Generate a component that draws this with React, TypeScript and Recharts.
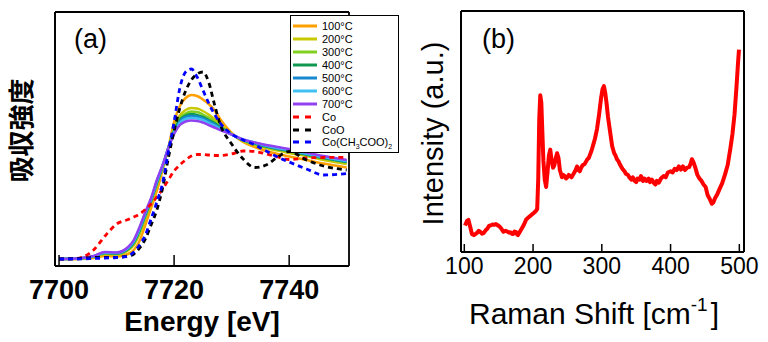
import React from 'react';
import { LineChart, Line, XAxis, YAxis, Legend, Customized, CartesianGrid } from 'recharts';

const FONT = '"Liberation Sans", Arial, sans-serif';

// ---------- (a) XANES ----------
const energy = [7700, 7703, 7706, 7708, 7710, 7712, 7713, 7714, 7715, 7716, 7717, 7718, 7719, 7720, 7721, 7722, 7723, 7724, 7725, 7726, 7727, 7728, 7730, 7732, 7734, 7736, 7738, 7740, 7743, 7746, 7750];
const t100 = [0, 0, 0.01, 0.03, 0.025, 0.05, 0.09, 0.18, 0.34, 0.51, 0.68, 0.89, 1.11, 1.37, 1.53, 1.61, 1.64, 1.63, 1.595, 1.55, 1.49, 1.40, 1.26, 1.17, 1.12, 1.08, 1.05, 1.025, 0.99, 0.955, 0.915];
const t200 = [0, 0, 0.02, 0.05, 0.045, 0.085, 0.14, 0.25, 0.405, 0.56, 0.735, 0.915, 1.11, 1.31, 1.435, 1.49, 1.51, 1.505, 1.48, 1.445, 1.40, 1.345, 1.25, 1.18, 1.14, 1.11, 1.085, 1.06, 1.03, 0.99, 0.95];
const t300 = [0, 0.003, 0.023, 0.056, 0.05, 0.095, 0.155, 0.27, 0.425, 0.575, 0.75, 0.92, 1.11, 1.29, 1.405, 1.455, 1.475, 1.47, 1.445, 1.415, 1.375, 1.33, 1.25, 1.185, 1.15, 1.12, 1.095, 1.075, 1.04, 1.005, 0.965];
const t400 = [0, 0.004, 0.025, 0.06, 0.055, 0.1, 0.165, 0.285, 0.44, 0.585, 0.76, 0.925, 1.11, 1.28, 1.39, 1.435, 1.45, 1.44, 1.42, 1.39, 1.36, 1.32, 1.245, 1.19, 1.155, 1.125, 1.10, 1.08, 1.045, 1.01, 0.97];
const t500 = [0, 0.004, 0.026, 0.063, 0.058, 0.107, 0.172, 0.295, 0.445, 0.59, 0.77, 0.93, 1.11, 1.27, 1.375, 1.42, 1.43, 1.425, 1.405, 1.38, 1.35, 1.31, 1.245, 1.19, 1.16, 1.13, 1.105, 1.085, 1.05, 1.015, 0.975];
const t600 = [0, 0.005, 0.028, 0.066, 0.062, 0.113, 0.18, 0.305, 0.46, 0.60, 0.78, 0.935, 1.11, 1.26, 1.36, 1.40, 1.41, 1.405, 1.39, 1.36, 1.335, 1.30, 1.245, 1.195, 1.165, 1.135, 1.11, 1.09, 1.055, 1.02, 0.98];
const t700 = [0, 0.005, 0.03, 0.07, 0.065, 0.12, 0.19, 0.32, 0.47, 0.61, 0.79, 0.94, 1.11, 1.25, 1.34, 1.375, 1.385, 1.38, 1.365, 1.34, 1.315, 1.29, 1.245, 1.195, 1.165, 1.14, 1.12, 1.10, 1.065, 1.03, 0.99];
const coMetal = [0, 0.005, 0.09, 0.23, 0.35, 0.395, 0.42, 0.45, 0.495, 0.55, 0.62, 0.70, 0.79, 0.88, 0.94, 0.99, 1.03, 1.045, 1.045, 1.04, 1.035, 1.035, 1.05, 1.08, 1.075, 1.05, 1.02, 0.995, 1.01, 1.015, 1.017];
const coO = [0, 0.005, 0.015, 0.017, 0.017, 0.03, 0.05, 0.11, 0.20, 0.34, 0.49, 0.71, 1.01, 1.28, 1.51, 1.68, 1.79, 1.85, 1.87, 1.77, 1.55, 1.35, 1.15, 1.00, 0.915, 0.94, 1.02, 1.075, 0.99, 0.93, 0.89];
const coAcetate = [0, 0, 0.005, 0.01, 0.015, 0.03, 0.07, 0.14, 0.24, 0.40, 0.57, 0.76, 1.07, 1.37, 1.71, 1.87, 1.90, 1.82, 1.69, 1.56, 1.45, 1.36, 1.25, 1.19, 1.14, 1.08, 1.02, 0.97, 0.90, 0.84, 0.855];
const energyTicks = [7700, 7720, 7740];

// ---------- (b) Raman ----------
const ramanShift = [101, 104, 106, 109, 111, 114, 118, 121, 123, 126, 128, 131, 133, 136, 138, 141, 143, 146, 148, 151, 153, 155, 157, 160, 162, 165, 167, 169, 171, 173, 175, 177, 178, 180, 181, 184, 187, 190, 194, 198, 201, 204, 206, 207.5, 209, 210.5, 212, 213.5, 215, 217, 219, 221, 223, 225, 227, 229, 231, 233, 235, 237, 239, 242, 244, 246, 248, 250, 252, 254, 256, 258, 260, 262, 264, 266, 268, 270, 272, 275, 277, 279, 281, 283, 285, 287, 290, 293, 296, 299, 301, 303, 305, 307, 309, 312, 315, 318, 320, 322, 324, 326, 328, 330, 333, 335, 338, 340, 343, 345, 348, 350, 352, 355, 357, 360, 362, 365, 368, 370, 373, 376, 378, 380, 383, 386, 390, 393, 396, 400, 403, 406, 409, 412, 415, 418, 421, 424, 427, 429, 431, 433, 436, 439, 442, 445, 448, 451, 454, 457, 460, 462, 465, 468, 471, 475, 479, 483, 487, 490, 493, 496, 498, 499.5];
const ramanIntensity = [11, 13, 13.3, 10, 7.5, 7, 7.8, 8.8, 8.4, 7.6, 7.8, 9, 9.5, 10.8, 11, 11.4, 11.3, 11.6, 11.2, 10.6, 10, 9.2, 8.4, 8.8, 8.6, 8, 8.2, 7.6, 7.5, 8.5, 8.3, 7.2, 7, 8, 8.5, 10, 11.5, 13.5, 14.5, 15.5, 16.2, 17, 17.8, 30, 55, 65, 62, 50, 38, 30, 27, 33, 40, 42.5, 38, 35, 36, 39, 41, 39, 34, 31, 32, 31.5, 30.5, 31, 32, 31.5, 31, 32, 33, 34, 35.5, 34, 33.5, 35, 36, 36.5, 37.5, 38.5, 39, 40.5, 42, 44, 47, 51, 57, 64, 67.5, 68.8, 66, 61.5, 56, 50, 44, 41, 40, 38.5, 37.8, 36.5, 35.5, 34.5, 33.5, 32.5, 32, 31, 30, 31, 29.5, 29, 30.5, 30, 31.5, 29.5, 30.5, 29.5, 30.5, 29, 30, 28.5, 28, 29.5, 28.8, 30.5, 31.5, 31, 33, 33.5, 33, 34.5, 34, 35.5, 34.2, 35.5, 34, 35, 35.2, 36.5, 38.5, 37.5, 35, 32, 30.5, 29.5, 28, 27, 23.5, 22, 20, 20.5, 22.5, 24, 26, 28.5, 32, 36, 43, 49, 57, 69, 78, 84];
const ramanTicks = [100, 200, 300, 400, 500];

const series = [
  { key: 't100', name: '100°C', color: '#FFA000', dashed: false },
  { key: 't200', name: '200°C', color: '#C8C800', dashed: false },
  { key: 't300', name: '300°C', color: '#80D020', dashed: false },
  { key: 't400', name: '400°C', color: '#109850', dashed: false },
  { key: 't500', name: '500°C', color: '#1888D0', dashed: false },
  { key: 't600', name: '600°C', color: '#40C0F0', dashed: false },
  { key: 't700', name: '700°C', color: '#9040F0', dashed: false },
  { key: 'co', name: 'Co', color: '#FF0000', dashed: true },
  { key: 'coo', name: 'CoO', color: '#000000', dashed: true },
  { key: 'coac', name: 'Co(CH3COO)2', color: '#0000FF', dashed: true },
];

const subStyle: React.CSSProperties = { fontSize: 7, verticalAlign: 'sub', lineHeight: 0 };

const legendLabel = (name: string) => {
  if (name === 'Co(CH3COO)2') {
    return (
      <span>
        Co(CH<sub style={subStyle}>3</sub>COO)<sub style={subStyle}>2</sub>
      </span>
    );
  }
  return <span>{name}</span>;
};

const renderLegend = (props: any) => {
  const payload = [...(props.payload || [])].sort(
    (a: any, b: any) => series.findIndex((s) => s.name === a.value) - series.findIndex((s) => s.name === b.value)
  );
  return (
    <div
      style={{
        border: '1px solid #000',
        background: '#fff',
        padding: '4px 0 3px 2px',
        width: 109,
        boxSizing: 'border-box',
        fontFamily: FONT,
        fontSize: 11,
        color: '#000',
      }}
    >
      {payload.map((entry: any) => {
        const cfg = series.find((s) => s.name === entry.value);
        const dashed = cfg ? cfg.dashed : false;
        const color = cfg ? cfg.color : entry.color;
        return (
          <div key={entry.value} style={{ display: 'flex', alignItems: 'center', height: 12.9, whiteSpace: 'nowrap' }}>
            <svg width={24} height={12} style={{ marginRight: 5, flex: 'none' }}>
              <line
                x1={0}
                x2={dashed ? 18 : 24}
                y1={6}
                y2={6}
                stroke={color}
                strokeWidth={3}
                strokeDasharray={dashed ? '6 6' : undefined}
              />
            </svg>
            {legendLabel(entry.value)}
          </div>
        );
      })}
    </div>
  );
};

const frameH = (p: any) => [p.offset.top, p.offset.top + p.offset.height];
const frameV = (p: any) => [p.offset.left, p.offset.left + p.offset.width];

export default function App() {
  const xanesRows = energy.map((e, i) => ({
    e,
    t100: t100[i],
    t200: t200[i],
    t300: t300[i],
    t400: t400[i],
    t500: t500[i],
    t600: t600[i],
    t700: t700[i],
    co: coMetal[i],
    coo: coO[i],
    coac: coAcetate[i],
  }));
  const ramanRows = ramanShift.map((s, i) => ({ s, v: ramanIntensity[i] }));

  const xDomA: [number, number] = [7699.3, 7750.4];
  const yDomA: [number, number] = [-0.07, 2.47];
  const xDomB: [number, number] = [95.2, 506.8];
  const yDomB: [number, number] = [0, 100];

  return (
    <div style={{ position: 'absolute', left: 0, top: 0, width: 768, height: 342, background: '#fff', fontFamily: FONT }}>
      <div style={{ position: 'absolute', left: 0, top: 0 }}>
        <LineChart width={384} height={342} data={xanesRows} margin={{ top: 12, right: 35, bottom: 0, left: 0 }}>
          <CartesianGrid
            stroke="#000"
            strokeWidth={1.8}
            fill="none"
            horizontalCoordinatesGenerator={frameH}
            verticalCoordinatesGenerator={frameV}
          />
          <XAxis
            dataKey="e"
            type="number"
            domain={xDomA}
            ticks={energyTicks}
            allowDataOverflow
            height={76}
            tickSize={-11}
            tickMargin={25}
            axisLine={{ stroke: '#000', strokeWidth: 1.8 }}
            tickLine={{ stroke: '#000', strokeWidth: 1.5 }}
            tick={{ fill: '#000', fontSize: 27, fontWeight: 'bold', fontFamily: FONT }}
          />
          <YAxis type="number" domain={yDomA} allowDataOverflow width={55} tick={false} tickLine={false} axisLine={{ stroke: '#000', strokeWidth: 1.8 }} />
          {series.map((s) => (
            <Line
              key={s.key}
              dataKey={s.key}
              name={s.name}
              type="monotone"
              stroke={s.color}
              strokeWidth={s.dashed ? 2.8 : 2.5}
              strokeDasharray={s.dashed ? '5 4' : undefined}
              dot={false}
              activeDot={false}
              isAnimationActive={false}
            />
          ))}
          <Legend
            layout="vertical"
            align="center"
            verticalAlign="middle"
            content={renderLegend}
            wrapperStyle={{ left: 290, top: 15, width: 109, height: 138 }}
          />
          <Customized
            component={() => (
              <g>
                <text x={74} y={48} fontSize={27} fontFamily={FONT} fill="#000">(a)</text>
                <text x={202} y={331} fontSize={28} fontWeight="bold" fontFamily={FONT} fill="#000" textAnchor="middle">
                  Energy [eV]
                </text>
                <text
                  x={31}
                  y={130.5}
                  fontSize={26}
                  fontWeight="bold"
                  fontFamily={'"Noto Sans CJK JP", "Noto Sans CJK SC", sans-serif'}
                  fill="#000"
                  textAnchor="middle"
                  transform="rotate(-90 31 130.5)"
                >
                  吸収強度
                </text>
              </g>
            )}
          />
        </LineChart>
      </div>
      <div style={{ position: 'absolute', left: 384, top: 0 }}>
        <LineChart width={384} height={342} data={ramanRows} margin={{ top: 11, right: 24, bottom: 0, left: 0 }}>
          <CartesianGrid
            stroke="#000"
            strokeWidth={2}
            fill="none"
            horizontalCoordinatesGenerator={frameH}
            verticalCoordinatesGenerator={frameV}
          />
          <XAxis
            dataKey="s"
            type="number"
            domain={xDomB}
            ticks={ramanTicks}
            allowDataOverflow
            height={90}
            tickSize={-8}
            tickMargin={14}
            axisLine={{ stroke: '#000', strokeWidth: 2 }}
            tickLine={{ stroke: '#000', strokeWidth: 1.5 }}
            tick={{ fill: '#000', fontSize: 23, fontFamily: FONT }}
          />
          <YAxis type="number" domain={yDomB} allowDataOverflow width={77} tick={false} tickLine={false} axisLine={{ stroke: '#000', strokeWidth: 2 }} />
          <Line
            dataKey="v"
            name="Raman"
            type="linear"
            stroke="#FF0000"
            strokeWidth={4}
            strokeLinejoin="round"
            dot={false}
            activeDot={false}
            isAnimationActive={false}
          />
          <Customized
            component={() => (
              <g>
                <text x={98} y={48} fontSize={27} fontFamily={FONT} fill="#000">(b)</text>
                <text x={85} y={324} fontSize={30} fontFamily={FONT} fill="#000">
                  <tspan>Raman Shift [cm</tspan>
                  <tspan fontSize={19} dy={-13}>-1</tspan>
                  <tspan dy={13} dx={3}>]</tspan>
                </text>
                <text
                  x={58.5}
                  y={133.5}
                  fontSize={29}
                  fontFamily={FONT}
                  fill="#000"
                  textAnchor="middle"
                  transform="rotate(-90 58.5 133.5)"
                >
                  Intensity (a.u.)
                </text>
              </g>
            )}
          />
        </LineChart>
      </div>
    </div>
  );
}
